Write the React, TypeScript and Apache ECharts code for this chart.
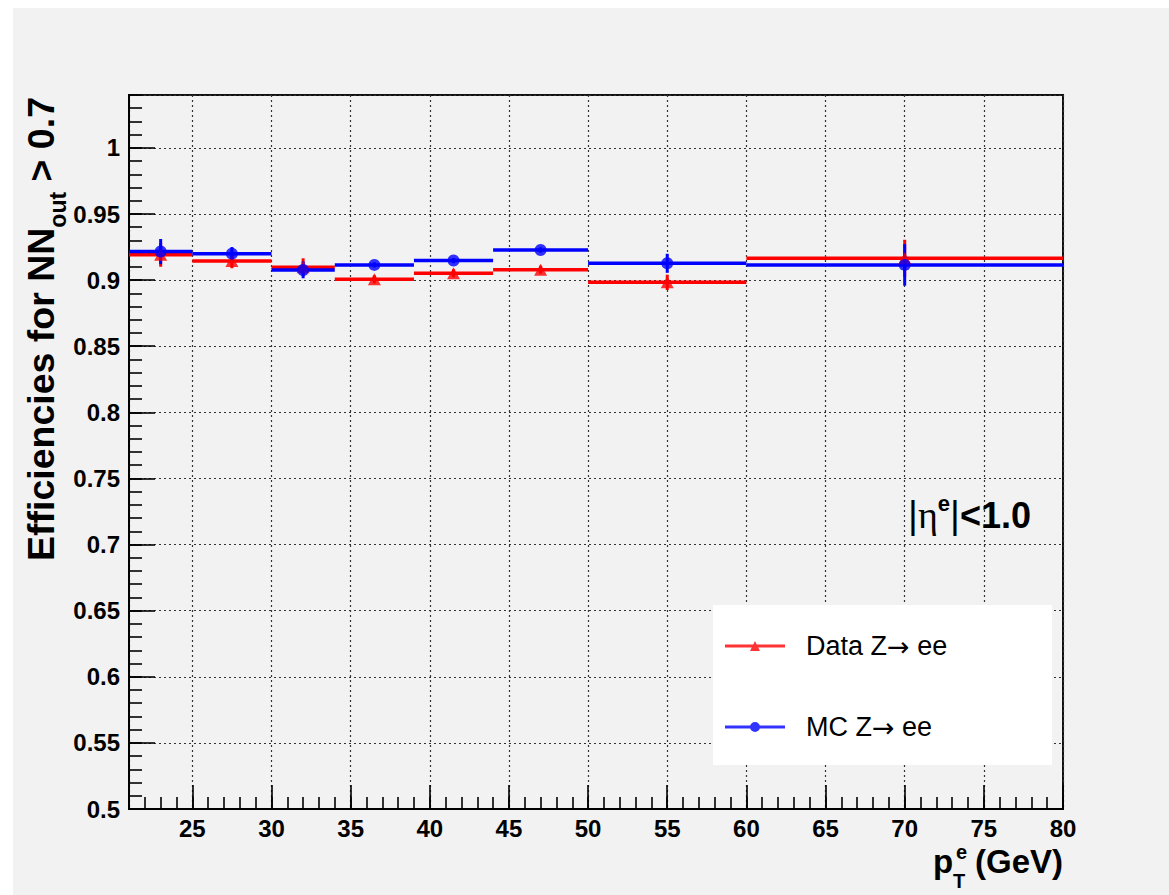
import React, { useEffect, useRef } from 'react';
import * as echarts from 'echarts';

// ---- data ----
const binLow = [21, 25, 30, 34, 39, 44, 50, 60];
const binHigh = [25, 30, 34, 39, 44, 50, 60, 80];
const binCenter = [23, 27.5, 32, 36.5, 41.5, 47, 55, 70];
const dataEff = [0.9191, 0.9145, 0.9097, 0.9006, 0.9052, 0.9079, 0.8983, 0.9165];
const dataErr = [0.009, 0.0055, 0.0068, 0.003, 0.003, 0.003, 0.0058, 0.014];
const mcEff = [0.9216, 0.92, 0.9077, 0.9115, 0.9148, 0.9228, 0.9127, 0.9115];
const mcErr = [0.0095, 0.005, 0.0063, 0.002, 0.002, 0.002, 0.0072, 0.0157];
const seriesNames = ['Data Z\u2192 ee', 'MC Z\u2192 ee'];
const xRange = [21, 80];
const yRange = [0.5, 1.04];
const xMajor = 5;
const yMajor = 0.05;
const yMinor = 0.01;
const xMinor = 1;

const FONT = "'Liberation Sans', Arial, Helvetica, sans-serif";
const RED = '#ff0000';
const BLUE = '#0000ff';

function binRows(eff: number[], err: number[]) {
  return binLow.map((lo, i) => [lo, binHigh[i], binCenter[i], eff[i], err[i]]);
}

function makeRender(color: string) {
  return (params: any, api: any) => {
    const lo = api.value(0);
    const hi = api.value(1);
    const xc = api.value(2);
    const y = api.value(3);
    const e = api.value(4);
    const pL = api.coord([lo, y]);
    const pR = api.coord([hi, y]);
    const pT = api.coord([xc, y + e]);
    const pB = api.coord([xc, y - e]);
    return {
      type: 'group',
      children: [
        {
          type: 'line',
          shape: { x1: pL[0], y1: pL[1], x2: pR[0], y2: pR[1] },
          style: { stroke: color, lineWidth: 3.5 },
        },
        {
          type: 'line',
          shape: { x1: pT[0], y1: pT[1], x2: pB[0], y2: pB[1] },
          style: { stroke: color, lineWidth: 3 },
        },
      ],
    };
  };
}

const gridLine = { show: true, lineStyle: { color: '#333', width: 1.2, type: [2, 3] } };
const tickStyle = { color: '#000', width: 1.6 };
const labelStyle = { fontSize: 24, fontWeight: 'bold', fontFamily: FONT, color: '#000' };

export default function App() {
  const ref = useRef<HTMLDivElement>(null);
  useEffect(() => {
    const el = ref.current;
    if (!el) return;
    const chart = echarts.init(el, null, { renderer: 'svg' });
    const option: any = {
      animation: false,
      backgroundColor: '#f2f2f2',
      grid: {
        left: 116,
        top: 87,
        right: 106,
        bottom: 86,
        show: true,
        borderColor: '#111',
        borderWidth: 2,
        backgroundColor: 'transparent',
      },
      xAxis: [
        {
          type: 'value',
          min: xRange[0],
          max: xRange[1],
          interval: xMinor,
          position: 'bottom',
          axisLine: { show: true, onZero: false, lineStyle: { color: '#000', width: 2 } },
          axisTick: { show: true, inside: true, length: 12, lineStyle: tickStyle },
          axisLabel: { show: false },
          splitLine: { show: false },
        },
        {
          type: 'value',
          min: xRange[0],
          max: xRange[1],
          splitNumber: 12,
          position: 'bottom',
          axisLine: { show: false, onZero: false },
          axisTick: { show: true, inside: true, length: 24, lineStyle: tickStyle },
          axisLabel: {
            ...labelStyle,
            margin: 7,
            showMinLabel: false,
            formatter: (v: number) => (Math.abs(v / xMajor - Math.round(v / xMajor)) < 1e-6 ? String(v) : ''),
          },
          splitLine: gridLine,
        },
      ],
      yAxis: [
        {
          type: 'value',
          min: yRange[0],
          max: yRange[1],
          interval: yMinor,
          position: 'left',
          axisLine: { show: true, onZero: false, lineStyle: { color: '#000', width: 2 } },
          axisTick: { show: true, inside: true, length: 13, lineStyle: tickStyle },
          axisLabel: { show: false },
          splitLine: { show: false },
        },
        {
          type: 'value',
          min: yRange[0],
          max: yRange[1],
          interval: yMajor,
          position: 'left',
          axisLine: { show: false, onZero: false },
          axisTick: { show: true, inside: true, length: 26, lineStyle: tickStyle },
          axisLabel: {
            ...labelStyle,
            margin: 9,
            showMaxLabel: false,
            formatter: (v: number) => (v > 1.001 ? '' : String(Math.round(v * 100) / 100)),
          },
          splitLine: gridLine,
        },
      ],
      legend: {
        orient: 'vertical',
        left: 712,
        top: 623,
        padding: 0,
        itemGap: 51,
        itemWidth: 60,
        itemHeight: 10,
        selectedMode: false,
        data: [
          { name: seriesNames[0], icon: 'path://M0 3.5L60 3.5L60 6.5L0 6.5Z M25 10L30 0L35 10Z' },
          { name: seriesNames[1], icon: 'path://M0 3.5L60 3.5L60 6.5L0 6.5Z M25 5A5 5 0 1 1 35 5A5 5 0 1 1 25 5Z' },
        ],
        formatter: (name: string) => name.replace('\u2192', '{arr|\u2192}'),
        textStyle: {
          fontSize: 27,
          fontFamily: FONT,
          color: '#000',
          lineHeight: 30,
          padding: [0, 0, 0, 16],
          rich: {
            arr: { fontSize: 27, fontFamily: "'DejaVu Sans', sans-serif", color: '#000', lineHeight: 30 },
          },
        },
      },
      graphic: [
        { type: 'rect', z: 3, shape: { x: 700, y: 597, width: 339, height: 160 }, style: { fill: '#ffffff' } },
        {
          type: 'text',
          z: 10,
          x: 28,
          y: 89,
          rotation: Math.PI / 2,
          style: {
            text: 'Efficiencies for NN{sub|out} > 0.7',
            align: 'right',
            verticalAlign: 'middle',
            fontSize: 37.5,
            fontWeight: 'bold',
            fontFamily: FONT,
            fill: '#000',
            rich: {
              sub: { fontSize: 23, fontWeight: 'bold', fontFamily: FONT, fill: '#000', padding: [34, 0, 0, 0] },
            },
          },
        },
        {
          type: 'text',
          z: 10,
          x: 1018,
          y: 507,
          style: {
            text: '{n||}{g|\u03b7}{s|e}{n||}{b|<1.0}',
            align: 'right',
            verticalAlign: 'middle',
            fontSize: 36,
            fontFamily: FONT,
            fill: '#000',
            rich: {
              n: { fontSize: 38, fontFamily: FONT, fontWeight: 'normal', fill: '#000' },
              g: { fontSize: 38, fontFamily: "'Liberation Serif', serif", fontWeight: 'normal', fill: '#000' },
              s: { fontSize: 22, fontFamily: FONT, fontWeight: 'bold', fill: '#000', padding: [0, 0, 24, 0] },
              b: { fontSize: 36, fontFamily: FONT, fontWeight: 'bold', fill: '#000' },
            },
          },
        },
        {
          type: 'text', z: 10, x: 920, y: 853.6,
          style: { text: 'p', align: 'left', verticalAlign: 'middle', fontSize: 33, fontWeight: 'bold', fontFamily: FONT, fill: '#000' },
        },
        {
          type: 'text', z: 10, x: 943, y: 843.8,
          style: { text: 'e', align: 'left', verticalAlign: 'middle', fontSize: 20, fontWeight: 'bold', fontFamily: FONT, fill: '#000' },
        },
        {
          type: 'text', z: 10, x: 940, y: 872.5,
          style: { text: 'T', align: 'left', verticalAlign: 'middle', fontSize: 20, fontWeight: 'bold', fontFamily: FONT, fill: '#000' },
        },
        {
          type: 'text', z: 10, x: 1050, y: 853.6,
          style: { text: '(GeV)', align: 'right', verticalAlign: 'middle', fontSize: 33, fontWeight: 'bold', fontFamily: FONT, fill: '#000' },
        },
      ],
      series: [
        {
          name: 'Data bins',
          type: 'custom',
          clip: true,
          data: binRows(dataEff, dataErr),
          encode: { x: 2, y: 3 },
          renderItem: makeRender(RED),
          silent: true,
        },
        {
          name: seriesNames[0],
          type: 'scatter',
          symbol: 'triangle',
          symbolSize: [13, 12],
          itemStyle: { color: RED },
          data: binCenter.map((x, i) => [x, dataEff[i]]),
        },
        {
          name: 'MC bins',
          type: 'custom',
          clip: true,
          data: binRows(mcEff, mcErr),
          encode: { x: 2, y: 3 },
          renderItem: makeRender(BLUE),
          silent: true,
        },
        {
          name: seriesNames[1],
          type: 'scatter',
          symbol: 'circle',
          symbolSize: 12,
          itemStyle: { color: BLUE },
          data: binCenter.map((x, i) => [x, mcEff[i]]),
        },
      ],
    };
    chart.setOption(option);
    return () => chart.dispose();
  }, []);
  return (
    <div
      ref={ref}
      style={{ position: 'absolute', left: 13, top: 8, width: 1156, height: 887 }}
    />
  );
}
